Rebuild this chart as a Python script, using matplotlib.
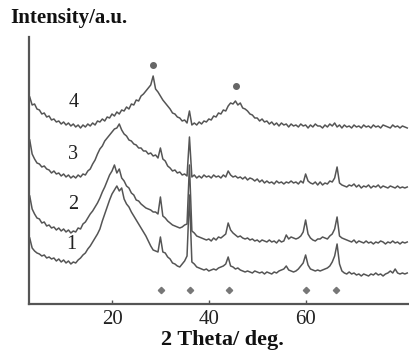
import numpy as np
import matplotlib
matplotlib.use("Agg")
import matplotlib.pyplot as plt

# 2-theta scan grid (degrees)
two_theta = np.arange(3.0, 81.01, 0.5)

# Intensities (a.u., offset traces)
sample4 = [207, 199, 200, 195, 194, 190, 191, 187, 188, 184,
           185, 182, 183, 180, 182, 179, 181, 178, 180, 177,
           179, 176, 179, 177, 180, 178, 181, 179, 183, 182,
           185, 183, 187, 186, 190, 188, 192, 190, 194, 193,
           197, 195, 200, 199, 204, 203, 208, 210, 213, 216,
           219, 228, 215, 212, 208, 204, 201, 198, 195, 191,
           190, 187, 186, 183, 184, 181, 193, 179, 181, 179,
           182, 180, 183, 182, 185, 184, 188, 187, 191, 190,
           194, 193, 198, 201, 200, 203, 199, 201, 196, 195,
           193, 190, 189, 186, 186, 183, 185, 182, 183, 180,
           182, 179, 181, 178, 181, 179, 180, 177, 180, 178,
           179, 177, 180, 178, 179, 176, 179, 177, 180, 178,
           178, 176, 179, 177, 180, 178, 181, 177, 179, 176,
           179, 177, 178, 176, 179, 177, 178, 176, 179, 177,
           178, 176, 179, 177, 178, 176, 179, 178, 177, 176,
           179, 177, 178, 176, 178, 177, 176]

sample3 = [164, 150, 145, 141, 140, 137, 138, 135, 134, 131,
           133, 130, 131, 128, 130, 127, 129, 126, 128, 126,
           129, 127, 130, 129, 133, 135, 140, 144, 150, 155,
           158, 163, 166, 169, 172, 175, 176, 180, 174, 170,
           168, 164, 163, 160, 159, 156, 156, 153, 153, 150,
           151, 148, 149, 146, 156, 145, 143, 138, 136, 133,
           134, 131, 132, 129, 130, 128, 167, 127, 129, 126,
           128, 126, 129, 127, 128, 126, 129, 127, 128, 126,
           129, 127, 133, 129, 127, 128, 126, 127, 125, 127,
           124, 126, 125, 123, 125, 122, 124, 121, 123, 121,
           122, 120, 123, 121, 122, 120, 122, 121, 123, 121,
           122, 120, 123, 121, 130, 123, 121, 120, 122, 119,
           122, 119, 121, 120, 123, 122, 126, 137, 121, 119,
           118, 117, 119, 118, 120, 117, 119, 116, 118, 117,
           119, 116, 118, 117, 119, 116, 118, 117, 116, 118,
           117, 116, 118, 116, 117, 116, 117]

sample2 = [108, 95, 90, 86, 85, 81, 82, 78, 79, 76,
           77, 74, 76, 73, 75, 72, 74, 71, 73, 72,
           76, 75, 80, 82, 86, 90, 93, 97, 101, 106,
           112, 117, 123, 129, 133, 139, 131, 135, 126, 123,
           118, 116, 111, 109, 104, 103, 100, 98, 96, 95,
           94, 92, 92, 90, 107, 88, 86, 83, 81, 79,
           78, 77, 76, 77, 79, 80, 139, 73, 71, 68,
           67, 66, 65, 64, 65, 63, 66, 64, 67, 66,
           68, 70, 81, 74, 71, 69, 67, 68, 66, 65,
           66, 64, 65, 63, 64, 62, 64, 63, 62, 64,
           62, 63, 61, 64, 62, 63, 69, 65, 67, 66,
           65, 66, 68, 72, 84, 70, 66, 64, 63, 65,
           65, 67, 66, 65, 68, 70, 75, 87, 68, 66,
           65, 64, 63, 62, 64, 61, 63, 62, 61, 63,
           61, 62, 60, 62, 61, 63, 62, 60, 62, 61,
           63, 61, 62, 60, 62, 61, 62]

sample1 = [66, 56, 53, 51, 50, 48, 49, 46, 47, 45,
           46, 43, 45, 42, 44, 41, 43, 40, 42, 41,
           44, 46, 49, 51, 55, 58, 62, 66, 70, 75,
           83, 90, 97, 104, 110, 114, 118, 113, 116, 105,
           100, 97, 92, 88, 84, 80, 76, 72, 68, 63,
           58, 54, 53, 52, 67, 52, 51, 47, 45, 41,
           40, 38, 37, 40, 43, 48, 109, 42, 40, 37,
           36, 35, 34, 35, 33, 34, 35, 34, 36, 37,
           38, 40, 47, 38, 37, 35, 36, 34, 33, 32,
           33, 32, 31, 33, 32, 31, 32, 30, 32, 31,
           30, 32, 31, 33, 34, 35, 38, 34, 33, 32,
           33, 35, 38, 41, 49, 39, 35, 34, 33, 34,
           33, 34, 35, 36, 38, 42, 48, 60, 40, 33,
           31, 30, 32, 30, 31, 29, 30, 28, 30, 29,
           28, 30, 29, 31, 29, 30, 28, 30, 31, 33,
           31, 35, 31, 30, 31, 30, 31]

series = [sample1, sample2, sample3, sample4]
series_labels = ["1", "2", "3", "4"]
label_pos = [(11.6, 59), (12.0, 99), (12.0, 149), (12.0, 201)]

# reflection markers
diamond_pos = [30.1, 36.1, 44.2, 60.0, 66.3]
diamond_level = 14
circle_pos = [28.5, 45.6]
circle_level = [239, 218]

xticks = [20, 40, 60]

color = "#555555"

fig = plt.figure(figsize=(4.09, 3.52), dpi=100)
ax = fig.add_axes([0.0709, 0.1364, 0.9291, 0.7585])

for s in series:
    ax.plot(two_theta, s, color=color, lw=1.1)

for lab, (lx, ly) in zip(series_labels, label_pos):
    ax.text(lx, ly, lab, family="Liberation Serif", fontsize=14.5,
            ha="center", va="center", color="#222222")

ax.plot(diamond_pos, [diamond_level] * len(diamond_pos), linestyle="none",
        marker="D", ms=3.2, color="#777777")
ax.plot(circle_pos, circle_level, linestyle="none", marker="o", ms=4,
        color="#666666")

ax.set_xlim(2.85, 81.36)
ax.set_ylim(0, 267)
ax.set_xticks(xticks)
ax.set_xticklabels([str(t) for t in xticks], family="Liberation Serif",
                   fontsize=15, color="#222222")
ax.set_yticks([])
ax.tick_params(axis="x", direction="in", length=3, width=1, color=color, pad=4)
for side in ["top", "right"]:
    ax.spines[side].set_visible(False)
for side in ["left", "bottom"]:
    ax.spines[side].set_color(color)
    ax.spines[side].set_linewidth(1.6)

fig.text(0.024, 0.949, "Intensity/a.u.", family="Liberation Serif",
         fontweight="bold", fontsize=15, ha="left", va="center", color="#111111")
fig.text(0.545, 0.035, "2 Theta/ deg.", family="Liberation Serif",
         fontweight="bold", fontsize=16, ha="center", va="center", color="#111111")

fig.savefig("out.png", dpi=100)
